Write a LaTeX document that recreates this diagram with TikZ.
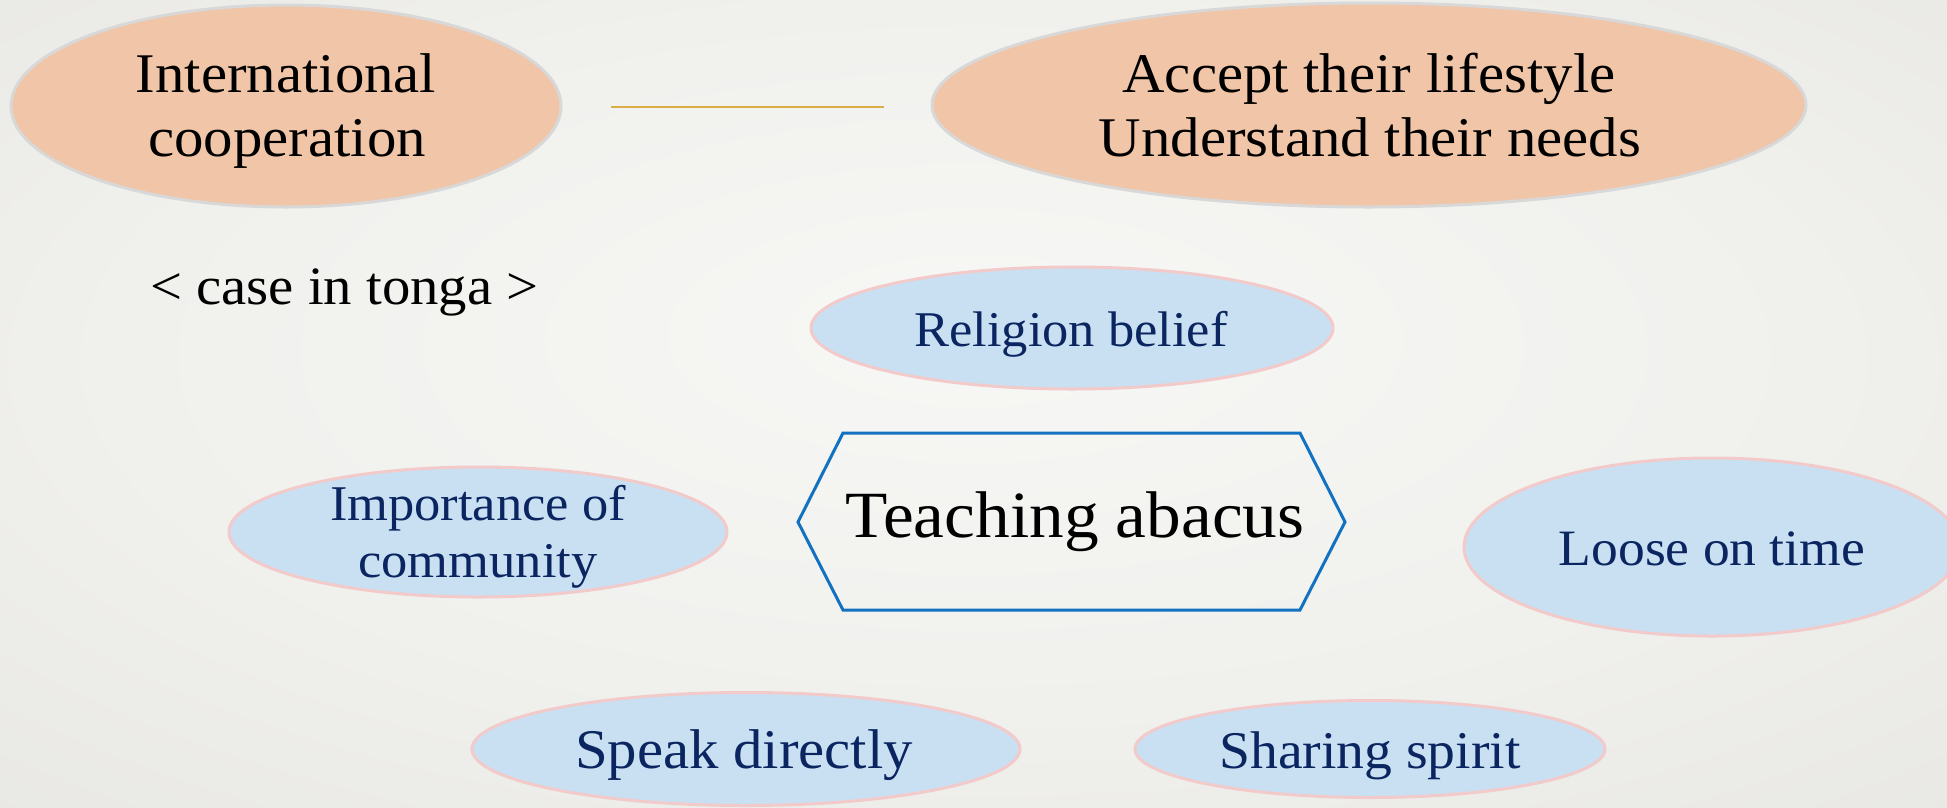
\documentclass[tikz,border=0pt]{standalone}
\usepackage{fontspec}
\setmainfont{Liberation Serif}[FakeStretch=1.05]
\usetikzlibrary{shapes.geometric}
\definecolor{bgin}{HTML}{F7F7F5}
\definecolor{bgmid}{HTML}{F0F0ED}
\definecolor{bgout}{HTML}{E2E1DD}
\definecolor{peach}{HTML}{F1C5A7}
\definecolor{peachline}{HTML}{D8D8D8}
\definecolor{lblue}{HTML}{C9E0F3}
\definecolor{pinkline}{HTML}{F2CACA}
\definecolor{navy}{HTML}{0B2560}
\definecolor{hexblue}{HTML}{1271C0}
\definecolor{gold}{HTML}{D9AE45}
\pgfdeclareradialshading{bgshade}{\pgfpoint{0bp}{5bp}}{color(0bp)=(bgin); color(22bp)=(bgmid); color(50bp)=(bgout)}
\newcommand\fsz[1]{\fontsize{#1}{#1}\selectfont}
\begin{document}
\begin{tikzpicture}[x=1pt,y=-1pt,
  peachell/.style={ellipse, draw=peachline, line width=3pt, fill=peach, inner sep=0pt},
  blueell/.style={ellipse, draw=pinkline, line width=3pt, fill=lblue, inner sep=0pt},
  lbl/.style={anchor=base, inner sep=0pt, text=black},
  nlbl/.style={anchor=base, inner sep=0pt, text=navy},
  hexline/.style={draw=hexblue, line width=3pt, line join=miter},
  goldline/.style={draw=gold, line width=2pt}]
\shade[shading=bgshade] (0,0) rectangle (1947,807);
\useasboundingbox (0,0) rectangle (1947,807);

% top row
\node[peachell, minimum width=550, minimum height=202] (int) at (286,106) {};
\node[lbl, font=\fsz{56}] (int1) at (286,92) {International};
\node[lbl, font=\fsz{56}] (int2) at (287,156) {cooperation};

\node[peachell, minimum width=874, minimum height=204] (acc) at (1369,105) {};
\node[lbl, font=\fsz{56}] (acc1) at (1369,92) {Accept their lifestyle};
\node[lbl, font=\fsz{56}] (acc2) at (1370,156) {Understand their needs};

\coordinate (g1) at (611,107);
\coordinate (g2) at (884,107);
\draw[goldline] (g1) -- (g2);

\node[lbl, font=\fsz{54}, anchor=base west] (case) at (150,304) {< case in tonga >};

% religion
\node[blueell, minimum width=522, minimum height=122] (rel) at (1072,328) {};
\node[nlbl, font=\fsz{50}] (rel1) at (1071,346) {Religion belief};

% hexagon
\draw[hexline] (798,522) -- (843,433) -- (1300,433) -- (1345,522) -- (1300,610) -- (843,610) -- cycle;
\node[lbl, font=\fsz{66}] (teach) at (1075,537) {Teaching abacus};

% importance
\node[blueell, minimum width=498, minimum height=130] (imp) at (478,532) {};
\node[nlbl, font=\fsz{50}] (imp1) at (478,520) {Importance of};
\node[nlbl, font=\fsz{50}] (imp2) at (478,577) {community};

% loose
\node[blueell, minimum width=496, minimum height=178] (loose) at (1712,547) {};
\node[nlbl, font=\fsz{51}] (loose1) at (1712,565) {Loose on time};

% bottom
\node[blueell, minimum width=548, minimum height=113] (speak) at (746,749) {};
\node[nlbl, font=\fsz{56}] (speak1) at (744,768) {Speak directly};

\node[blueell, minimum width=470, minimum height=97] (share) at (1370,749) {};
\node[nlbl, font=\fsz{53}] (share1) at (1370,768) {Sharing spirit};
\end{tikzpicture}
\end{document}
